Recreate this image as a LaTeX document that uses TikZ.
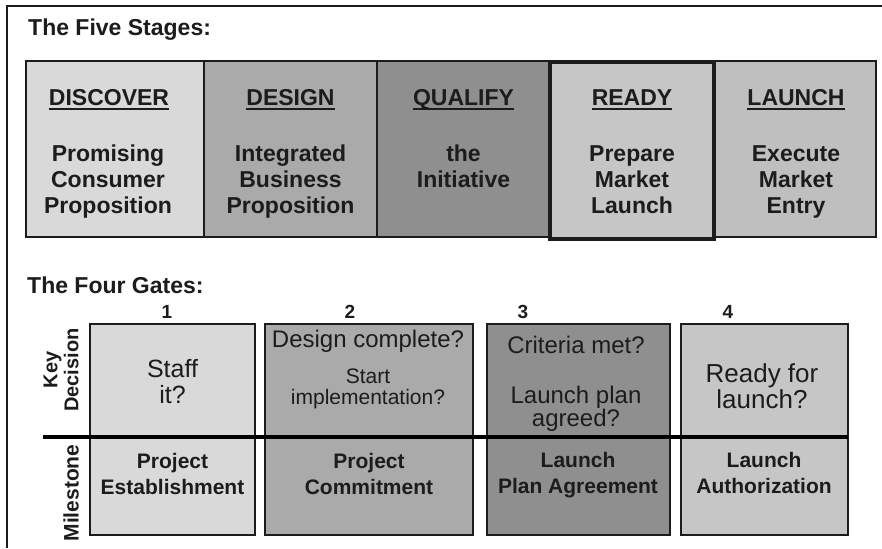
\documentclass[tikz,border=0pt]{standalone}
\usepackage{fontspec}
\setmainfont{Liberation Sans}
\usepackage{xcolor}
\usepackage{tikz}
\definecolor{inkgray}{HTML}{1C1C1C}
\definecolor{discovergray}{HTML}{D9D9D9}
\definecolor{designgray}{HTML}{AAAAAA}
\definecolor{qualifygray}{HTML}{8F8F8F}
\definecolor{readygray}{HTML}{C6C6C6}
\definecolor{launchgray}{HTML}{BFBFBF}

\begin{document}
\begin{tikzpicture}[x=1pt,y=-1pt,
  box/.style={draw=inkgray,line width=1.8pt},
  title/.style={font=\bfseries\fontsize{23}{26}\selectfont,text=inkgray,inner sep=0pt,anchor=base west},
  head/.style={font=\bfseries\fontsize{23}{26}\selectfont,text=inkgray,inner sep=0pt,anchor=base},
  body/.style={font=\bfseries\fontsize{23}{26}\selectfont,text=inkgray,align=center,inner sep=0pt,anchor=north},
  ask/.style={font=\fontsize{24}{26}\selectfont,text=inkgray,align=center,inner sep=0pt,anchor=north},
  mile/.style={font=\bfseries\fontsize{21}{26}\selectfont,text=inkgray,align=center,inner sep=0pt,anchor=north},
  num/.style={font=\bfseries\fontsize{19}{22}\selectfont,text=inkgray,inner sep=0pt,anchor=base}]
\useasboundingbox (0,0) rectangle (882,548);
\fill[white] (0,0) rectangle (882,548);

% frame
\draw[inkgray,line width=2.5pt] (7,548) -- (7,6) -- (882,6);

% the five stages
\node[title] (stagestitle) at (28,36) {The Five Stages:};

\filldraw[box,fill=discovergray] (26,61) rectangle (204,237);
\filldraw[box,fill=designgray] (204,61) rectangle (377,237);
\filldraw[box,fill=qualifygray] (377,61) rectangle (550,237);
\filldraw[box,fill=launchgray] (714,61) rectangle (876,237);
\filldraw[box,fill=readygray,line width=3.2pt] (550,62) rectangle (714,239);

\node[head] (discover) at (109,106) {DISCOVER};
\node[head] (design) at (290.5,106) {DESIGN};
\node[head] (qualify) at (463.5,106) {QUALIFY};
\node[head] (ready) at (632,106) {READY};
\node[head] (launch) at (796,106) {LAUNCH};
\foreach \h in {discover,design,qualify,ready,launch}
  \draw[inkgray,line width=1.4pt] ([yshift=-3pt]\h.base west) -- ([yshift=-3pt]\h.base east);

\node[body] (discoverbody) at (108,145) {Promising\\Consumer\\Proposition};
\node[body] (designbody) at (290.5,145) {Integrated\\Business\\Proposition};
\node[body] (qualifybody) at (463.5,145) {the\\Initiative};
\node[body] (readybody) at (632,145) {Prepare\\Market\\Launch};
\node[body] (launchbody) at (796,145) {Execute\\Market\\Entry};

% the four gates
\node[title] (gatestitle) at (27,293) {The Four Gates:};

\node[num] (gateone) at (167,318) {1};
\node[num] (gatetwo) at (350,318) {2};
\node[num] (gatethree) at (523,318) {3};
\node[num] (gatefour) at (728,318) {4};

\filldraw[box,fill=discovergray] (90,324) rectangle (255,535);
\filldraw[box,fill=designgray] (265,324) rectangle (473,535);
\filldraw[box,fill=qualifygray] (487,324) rectangle (670,535);
\filldraw[box,fill=readygray] (681,324) rectangle (848,535);

\draw[black,line width=4.5pt] (43,437) -- (848,437);

\node[font=\bfseries\fontsize{20}{21}\selectfont,text=inkgray,align=center,rotate=90,inner sep=0pt] (keydecision) at (61,370) {Key\\Decision};
\node[font=\bfseries\fontsize{21}{22}\selectfont,text=inkgray,rotate=90,inner sep=0pt] (milestone) at (71,493) {Milestone};

\node[ask,font=\fontsize{25}{26}\selectfont] (staff) at (172.5,359) {Staff\\it?};
\node[ask] (designcomplete) at (368,330) {Design complete?};
\node[ask,font=\fontsize{21}{21}\selectfont] (startimpl) at (368,369) {Start\\implementation?};
\node[ask,font=\fontsize{24}{21}\selectfont] (criteria) at (576,336) {Criteria met?\\[29pt]Launch plan\\agreed?};
\node[ask,font=\fontsize{26}{26}\selectfont] (readyfor) at (762,363) {Ready for\\launch?};

\node[mile] (establish) at (172.5,453) {Project\\Establishment};
\node[mile] (commit) at (369,453) {Project\\Commitment};
\node[mile] (planagree) at (578,452) {Launch\\Plan Agreement};
\node[mile] (authorize) at (764,452) {Launch\\Authorization};
\end{tikzpicture}
\end{document}
